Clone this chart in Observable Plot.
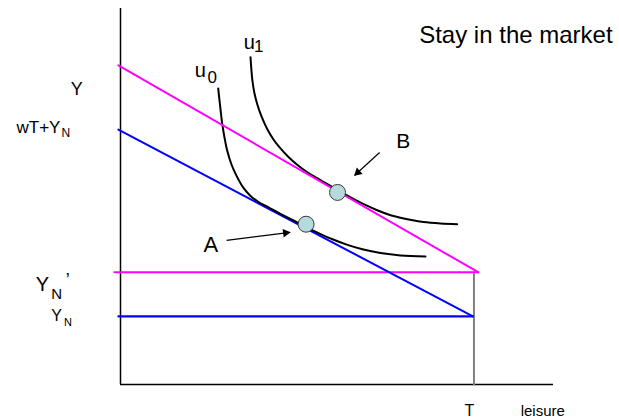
<!DOCTYPE html>
<html>
<head>
<meta charset="utf-8">
<script src="https://cdn.jsdelivr.net/npm/d3@7"></script>
<script src="https://cdn.jsdelivr.net/npm/@observablehq/plot@0.6"></script>
<style>
  html, body { margin: 0; padding: 0; background: #fff; }
  svg { display: block; }
</style>
</head>
<body>
<div id="chart"></div>
<script>
// ---- data (leisure on x, income Y on y; T = total time endowment) ----
const T = 10;
const YN = 1.93;        // non-labour income Y_N
const YNprime = 3.18;   // higher non-labour income Y_N'

const budgetOld = [ {x: -0.06, y: 7.22}, {x: 9.97, y: YN} ];
const budgetNew = [ {x: -0.06, y: 9.04}, {x: 10.12, y: YNprime} ];
const floorOld = [ {x: -0.06, y: YN}, {x: 9.97, y: YN} ];
const floorNew = [ {x: -0.17, y: YNprime}, {x: 10.12, y: YNprime} ];
const endowment = [ {x: T, y: 0}, {x: T, y: YNprime} ];

// indifference curve u0
const u0x = [2.764, 2.820, 2.877, 2.942, 3.018, 3.140, 3.301, 3.479, 3.678, 3.904, 4.187,
             4.526, 4.866, 5.233, 5.601, 5.997, 6.421, 6.846, 7.355, 7.921, 8.628];
const u0y = [8.385, 7.875, 7.394, 6.997, 6.629, 6.232, 5.873, 5.567, 5.340, 5.170, 5.020,
             4.836, 4.660, 4.467, 4.289, 4.113, 3.955, 3.830, 3.725, 3.657, 3.626];
// indifference curve u1
const u1x = [3.678, 3.700, 3.731, 3.785, 3.867, 3.989, 4.150, 4.328, 4.526, 4.752, 5.007, 5.276,
             5.564, 5.842, 6.130, 6.407, 6.696, 6.973, 7.262, 7.581, 7.921, 8.232, 8.571, 9.052, 9.525];
const u1y = [9.272, 8.952, 8.612, 8.272, 7.946, 7.592, 7.238, 6.941, 6.686, 6.445, 6.218, 6.020,
             5.844, 5.680, 5.516, 5.360, 5.204, 5.065, 4.935, 4.816, 4.725, 4.657, 4.601, 4.561, 4.541];

const optima = [ {name: "A", x: 5.25, y: 4.54}, {name: "B", x: 6.14, y: 5.44} ];
const arrows = [
  {x1: 3.00, y1: 4.08, x2: 4.80, y2: 4.31},
  {x1: 7.33, y1: 6.57, x2: 6.62, y2: 5.92}
];

// labels: text, position (data units, baseline), font size
const labelsStart = [
  {text: "Stay in the market", x: 8.45, y: 9.66, size: 24},
  {text: "B", x: 7.80, y: 6.70, size: 21},
  {text: "A", x: 2.35, y: 3.75, size: 22},
  {text: "u", x: 2.10, y: 8.70, size: 20},
  {text: "0", x: 2.46, y: 8.53, size: 17},
  {text: "u", x: 3.49, y: 9.50, size: 20},
  {text: "1", x: 3.78, y: 9.41, size: 17},
  {text: "N", x: -1.67, y: 7.00, size: 12},
  {text: "Y", x: -2.40, y: 2.64, size: 20},
  {text: "N", x: -1.96, y: 2.41, size: 15},
  {text: "\u2019", x: -1.55, y: 2.78, size: 18},
  {text: "Y", x: -1.96, y: 1.81, size: 16},
  {text: "N", x: -1.60, y: 1.67, size: 11},
  {text: "leisure", x: 11.32, y: -0.88, size: 15}
];
const labelsMiddle = [
  {text: "Y", x: -1.24, y: 8.19, size: 18},
  {text: "T", x: 9.87, y: -0.88, size: 16}
];
const labelsEnd = [
  {text: "wT+Y", x: -1.70, y: 7.11, size: 17}
];

const u0 = u0x.map((x, i) => ({x, y: u0y[i]}));
const u1 = u1x.map((x, i) => ({x, y: u1y[i]}));
// filled arrow heads, placed just behind each arrow's end and turned along it
const heads = arrows.map(a => {
  const ang = Math.atan2(a.y2 - a.y1, a.x2 - a.x1);
  return {x: a.x2 - 0.13 * Math.cos(ang), y: a.y2 - 0.13 * Math.sin(ang), rot: 90 - ang * 180 / Math.PI};
});

const magenta = "#ff00ff";
const blue = "#0000ff";

const chart = Plot.plot({
  width: 619,
  height: 420,
  marginLeft: 120,
  marginRight: 66,
  marginTop: 8,
  marginBottom: 36,
  x: {domain: [0, 12.25], axis: null},
  y: {domain: [0, 10.65], axis: null},
  style: {fontFamily: "'Liberation Sans', Arial, sans-serif", background: "#fff", color: "#000"},
  marks: [
    // axes
    Plot.ruleX([0], {y1: 0, y2: 10.65, stroke: "#000", strokeWidth: 1.5}),
    Plot.ruleY([0], {x1: 0, x2: 12.25, stroke: "#000", strokeWidth: 1.5}),
    // time endowment
    Plot.line(endowment, {x: "x", y: "y", stroke: "#808080", strokeWidth: 2}),
    // budget constraints
    Plot.line(floorNew, {x: "x", y: "y", stroke: magenta, strokeWidth: 2.2}),
    Plot.line(floorOld, {x: "x", y: "y", stroke: blue, strokeWidth: 2.2}),
    Plot.line(budgetOld, {x: "x", y: "y", stroke: blue, strokeWidth: 2}),
    // indifference curves
    Plot.line(u0, {x: "x", y: "y", curve: "catmull-rom", stroke: "#000", strokeWidth: 2}),
    Plot.line(u1, {x: "x", y: "y", curve: "catmull-rom", stroke: "#000", strokeWidth: 2}),
    Plot.line(budgetNew, {x: "x", y: "y", stroke: magenta, strokeWidth: 2}),
    // optimum points
    Plot.dot(optima, {x: "x", y: "y", r: 8, fill: "#b5dadc", stroke: "#3a3a3a", strokeWidth: 1}),
    // arrows
    Plot.link(arrows, {x1: "x1", y1: "y1", x2: "x2", y2: "y2", stroke: "#000", strokeWidth: 1.2}),
    Plot.dot(heads, {x: "x", y: "y", symbol: "triangle", r: 3.2, rotate: "rot", fill: "#000", stroke: "none"}),
    // labels
    Plot.text(labelsStart, {x: "x", y: "y", text: "text", fontSize: "size", textAnchor: "start", lineAnchor: "bottom", fill: "#000"}),
    Plot.text(labelsMiddle, {x: "x", y: "y", text: "text", fontSize: "size", textAnchor: "middle", lineAnchor: "bottom", fill: "#000"}),
    Plot.text(labelsEnd, {x: "x", y: "y", text: "text", fontSize: "size", textAnchor: "end", lineAnchor: "bottom", fill: "#000"})
  ]
});
document.getElementById("chart").appendChild(chart);
</script>
</body>
</html>
